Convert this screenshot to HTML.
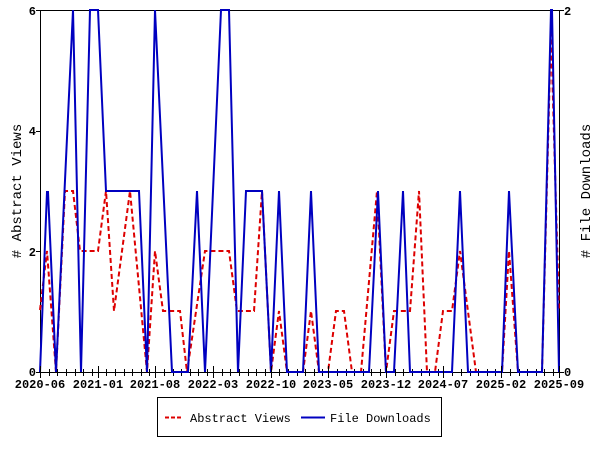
<!DOCTYPE html>
<html><head><style>body{margin:0;background:#fff}svg{display:block}text{font-family:"Liberation Mono",monospace;font-size:12px;font-weight:bold;fill:#000}</style></head><body>
<svg width="600" height="450" xmlns="http://www.w3.org/2000/svg">
<rect x="0" y="0" width="600" height="450" fill="#fff"/>
<g stroke="#000" stroke-width="1" fill="none">
<line x1="40.5" y1="10.5" x2="559.5" y2="10.5"/>
<line x1="40.5" y1="10" x2="40.5" y2="372"/>
<line x1="559.5" y1="10" x2="559.5" y2="372"/>
<line x1="40" y1="372.5" x2="560" y2="372.5"/>
<line x1="36" y1="372.5" x2="40" y2="372.5"/><line x1="36" y1="251.5" x2="40" y2="251.5"/><line x1="36" y1="131.5" x2="40" y2="131.5"/><line x1="36" y1="10.5" x2="40" y2="10.5"/>
<line x1="560" y1="372.5" x2="564" y2="372.5"/><line x1="560" y1="10.5" x2="564" y2="10.5"/>
</g>
<g stroke="#000" stroke-width="1">
<line x1="49.5" y1="369" x2="49.5" y2="376"/><line x1="57.5" y1="369" x2="57.5" y2="376"/><line x1="66.5" y1="369" x2="66.5" y2="376"/><line x1="75.5" y1="369" x2="75.5" y2="376"/><line x1="83.5" y1="369" x2="83.5" y2="376"/><line x1="92.5" y1="369" x2="92.5" y2="376"/>
<line x1="106.5" y1="369" x2="106.5" y2="376"/><line x1="115.5" y1="369" x2="115.5" y2="376"/><line x1="124.5" y1="369" x2="124.5" y2="376"/><line x1="132.5" y1="369" x2="132.5" y2="376"/><line x1="141.5" y1="369" x2="141.5" y2="376"/><line x1="149.5" y1="369" x2="149.5" y2="376"/>
<line x1="164.5" y1="369" x2="164.5" y2="376"/><line x1="173.5" y1="369" x2="173.5" y2="376"/><line x1="181.5" y1="369" x2="181.5" y2="376"/><line x1="190.5" y1="369" x2="190.5" y2="376"/><line x1="198.5" y1="369" x2="198.5" y2="376"/><line x1="207.5" y1="369" x2="207.5" y2="376"/>
<line x1="222.5" y1="369" x2="222.5" y2="376"/><line x1="230.5" y1="369" x2="230.5" y2="376"/><line x1="239.5" y1="369" x2="239.5" y2="376"/><line x1="248.5" y1="369" x2="248.5" y2="376"/><line x1="256.5" y1="369" x2="256.5" y2="376"/><line x1="265.5" y1="369" x2="265.5" y2="376"/>
<line x1="279.5" y1="369" x2="279.5" y2="376"/><line x1="288.5" y1="369" x2="288.5" y2="376"/><line x1="297.5" y1="369" x2="297.5" y2="376"/><line x1="305.5" y1="369" x2="305.5" y2="376"/><line x1="314.5" y1="369" x2="314.5" y2="376"/><line x1="322.5" y1="369" x2="322.5" y2="376"/>
<line x1="337.5" y1="369" x2="337.5" y2="376"/><line x1="346.5" y1="369" x2="346.5" y2="376"/><line x1="354.5" y1="369" x2="354.5" y2="376"/><line x1="363.5" y1="369" x2="363.5" y2="376"/><line x1="371.5" y1="369" x2="371.5" y2="376"/><line x1="380.5" y1="369" x2="380.5" y2="376"/>
<line x1="395.5" y1="369" x2="395.5" y2="376"/><line x1="403.5" y1="369" x2="403.5" y2="376"/><line x1="412.5" y1="369" x2="412.5" y2="376"/><line x1="421.5" y1="369" x2="421.5" y2="376"/><line x1="429.5" y1="369" x2="429.5" y2="376"/><line x1="438.5" y1="369" x2="438.5" y2="376"/>
<line x1="452.5" y1="369" x2="452.5" y2="376"/><line x1="461.5" y1="369" x2="461.5" y2="376"/><line x1="470.5" y1="369" x2="470.5" y2="376"/><line x1="478.5" y1="369" x2="478.5" y2="376"/><line x1="487.5" y1="369" x2="487.5" y2="376"/><line x1="495.5" y1="369" x2="495.5" y2="376"/>
<line x1="510.5" y1="369" x2="510.5" y2="376"/><line x1="519.5" y1="369" x2="519.5" y2="376"/><line x1="527.5" y1="369" x2="527.5" y2="376"/><line x1="536.5" y1="369" x2="536.5" y2="376"/><line x1="544.5" y1="369" x2="544.5" y2="376"/><line x1="553.5" y1="369" x2="553.5" y2="376"/>
</g>
<polyline fill="none" stroke="#dd0000" stroke-width="2" stroke-dasharray="5,3" points="40,310 47,251 56,372 65,191 73,191 80,251 98,251 106,191 114,311 130,191 147,372 155,251 163,311 180,311 187,372 205,251 229,251 237,311 254,311 262,191 271,372 279,311 287,372 303,372 311,311 319,372 328,372 336,311 344,311 352,372 361,372 377,191 386,372 394,311 410,311 419,191 427,372 435,372 443,311 452,311 460,251 476,372 502,372 509,251 518,372 542,372 551,30 559,310"/>
<polyline fill="none" stroke="#0000c0" stroke-width="2" points="40,372 47,192 48,192 56,372 73,10 81,372 90,10 98,10 106,191 139,191 147,372 155,10 172,372 188,372 197,191 205,372 221,10 229,10 238,372 246,191 262,191 271,372 279,191 287,372 303,372 311,191 319,372 369,372 378,191 386,372 394,372 403,191 410,372 452,372 460,191 468,372 502,372 509,191 518,372 542,372 551,10 552,10 559,372"/>
<g text-anchor="end">
<text x="36" y="376">0</text><text x="36" y="256">2</text><text x="36" y="135">4</text><text x="36" y="15">6</text>
</g>
<text x="564" y="376">0</text><text x="564" y="15">2</text>
<g text-anchor="middle">
<text x="40" y="388">2020-06</text><text x="98" y="388">2021-01</text><text x="155" y="388">2021-08</text><text x="213" y="388">2022-03</text><text x="271" y="388">2022-10</text><text x="328" y="388">2023-05</text><text x="386" y="388">2023-12</text><text x="443" y="388">2024-07</text><text x="501" y="388">2025-02</text><text x="559" y="388">2025-09</text>
</g>
<text transform="translate(21,191) rotate(-90)" text-anchor="middle" style="font-size:14px;font-weight:normal"># Abstract Views</text>
<text transform="translate(590,191) rotate(-90)" text-anchor="middle" style="font-size:14px;font-weight:normal"># File Downloads</text>
<rect x="157.5" y="397.5" width="284" height="39" fill="none" stroke="#000"/>
<line x1="165" y1="417.5" x2="183" y2="417.5" stroke="#dd0000" stroke-width="2" stroke-dasharray="4,2"/>
<text x="190" y="422" style="font-weight:normal">Abstract Views</text>
<line x1="301" y1="417.5" x2="325" y2="417.5" stroke="#0000c0" stroke-width="2"/>
<text x="330" y="422" style="font-weight:normal">File Downloads</text>
<g stroke="#000">
<line x1="40.5" y1="366" x2="40.5" y2="378"/><line x1="98.5" y1="366" x2="98.5" y2="378"/><line x1="155.5" y1="366" x2="155.5" y2="378"/><line x1="213.5" y1="366" x2="213.5" y2="378"/><line x1="271.5" y1="366" x2="271.5" y2="378"/><line x1="328.5" y1="366" x2="328.5" y2="378"/><line x1="386.5" y1="366" x2="386.5" y2="378"/><line x1="443.5" y1="366" x2="443.5" y2="378"/><line x1="501.5" y1="366" x2="501.5" y2="378"/><line x1="559.5" y1="366" x2="559.5" y2="378"/>
</g>
</svg>
</body></html>
